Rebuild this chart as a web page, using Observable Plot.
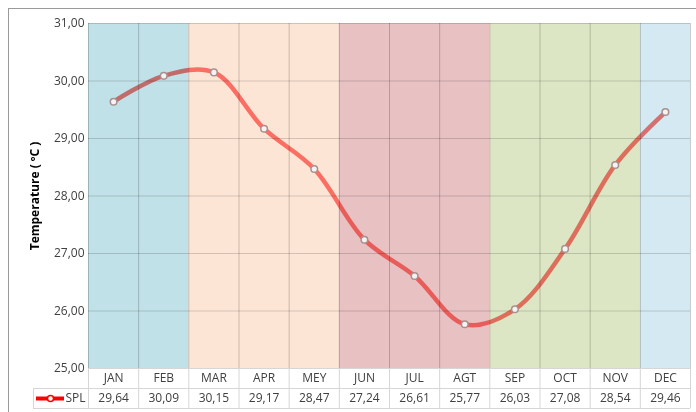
<!DOCTYPE html>
<html><head><meta charset="utf-8">
<script src="https://cdn.jsdelivr.net/npm/d3@7"></script>
<script src="https://cdn.jsdelivr.net/npm/@observablehq/plot@0.6"></script>
<style>
html,body{margin:0;padding:0;background:#fff;}
#frame{position:absolute;left:8px;top:8px;width:688px;height:404px;border-top:1px solid #9a9a9a;border-left:1px solid #9a9a9a;box-sizing:border-box;}
#chart{position:absolute;left:9px;top:9px;}
</style></head><body>
<div id="frame"></div><div id="chart"></div>
<script>
// ---- data ----
const months = ["JAN","FEB","MAR","APR","MEY","JUN","JUL","AGT","SEP","OCT","NOV","DEC"];
const temps = [29.64,30.09,30.15,29.17,28.47,27.24,26.61,25.77,26.03,27.08,28.54,29.46];
const yTicks = [25,26,27,28,29,30,31];
const seasonStart = [0,2,5,8,11];
const seasonEnd = [2,5,8,11,12];
const seriesName = "SPL";
const yLabel = "Temperature ( ºC )";

// ---- styles ----
const seasonColors = ["#c0e1e8","#fce5d5","#e8c1c3","#dde6c4","#d4e9f1"];
const textColor = "#404040";
const tableColor = "#d6d6d6";

const rows = months.map((m, i) => ({month: m, temp: temps[i], pos: i + 0.5}));
const seasons = seasonStart.map((s, i) => ({start: s, end: seasonEnd[i], color: seasonColors[i]}));
const bounds = d3.range(months.length + 1);
const fmt = d => d.toFixed(2).replace(".", ",");

const chart = Plot.plot({
  width: 687, height: 403,
  marginLeft: 79, marginRight: 6, marginTop: 14, marginBottom: 44,
  style: {fontFamily: "'Open Sans', sans-serif", fontSize: "12px", color: textColor, background: "transparent"},
  x: {domain: [0, months.length], axis: null},
  y: {domain: [25, 31], ticks: yTicks, tickFormat: fmt, tickSize: 0, tickPadding: 4, label: null},
  marks: [
    Plot.rect(seasons, {x1: "start", x2: "end", y1: 25, y2: 31, fill: "color"}),
    Plot.ruleY(yTicks.slice(1), {x1: 0, x2: months.length, stroke: "#000", strokeOpacity: 0.16}),
    Plot.ruleX(bounds, {y1: 25, y2: 31, stroke: "#000", strokeOpacity: 0.2}),
    Plot.line(rows, {x: "pos", y: "temp", curve: "catmull-rom", stroke: "#ff7a76", strokeWidth: 4.5, mixBlendMode: "multiply"}),
    Plot.dot(rows, {x: "pos", y: "temp", r: 3.3, fill: "#f6f2f2", stroke: "#a89090", strokeWidth: 1.5}),
    // table
    Plot.ruleX(bounds, {y1: 25, y2: 25, insetBottom: -40, stroke: tableColor}),
    Plot.ruleX([0], {x: 0, y1: 25, y2: 25, insetTop: 20, insetBottom: -40, dx: -55, stroke: tableColor}),
    Plot.ruleY([25], {x1: 0, x2: months.length, stroke: tableColor}),
    Plot.ruleY([25], {x1: 0, x2: months.length, dy: 20, insetLeft: -55, stroke: tableColor}),
    Plot.ruleY([25], {x1: 0, x2: months.length, dy: 40, insetLeft: -55, stroke: tableColor}),
    Plot.text(rows, {x: "pos", y: 25, dy: 10, text: "month", fill: textColor}),
    Plot.text(rows, {x: "pos", y: 25, dy: 30, text: d => fmt(d.temp), fill: textColor}),
    // legend
    Plot.ruleY([25], {x1: 0, x2: 0, insetLeft: -52, insetRight: 24, dy: 30, stroke: "#ff0000", strokeWidth: 4}),
    Plot.dot([0], {x: 0, y: 25, dx: -38, dy: 30, r: 3, fill: "#fff", stroke: "#ff0000", strokeWidth: 1.5}),
    Plot.text([seriesName], {x: 0, y: 25, dx: -23, dy: 30, text: d => d, textAnchor: "start", fill: textColor}),
    // y label
    Plot.text([yLabel], {frameAnchor: "left", text: d => d, rotate: -90, dx: -53, textAnchor: "middle", fontWeight: "bold", fill: "#000", fontSize: 12})
  ]
});
document.getElementById("chart").appendChild(chart);
</script>
</body></html>
